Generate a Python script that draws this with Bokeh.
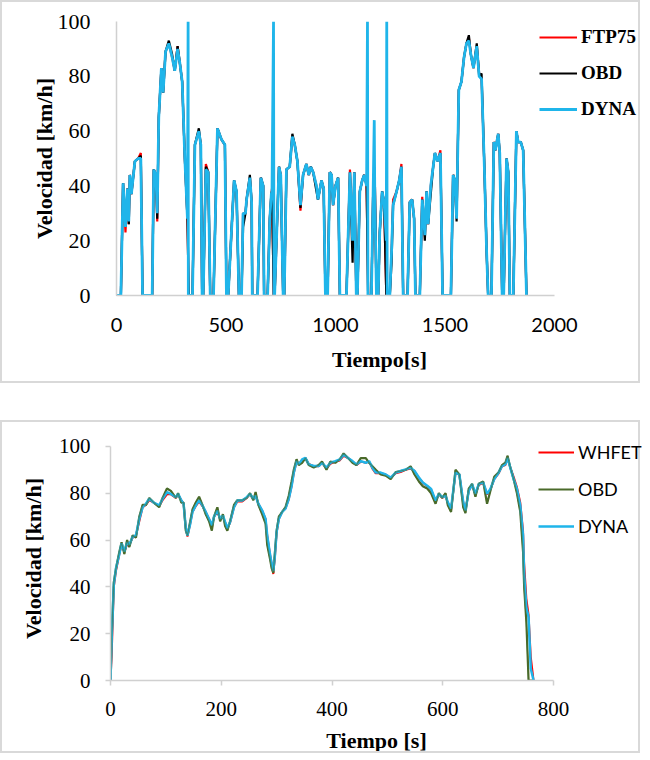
from bokeh.plotting import figure
from bokeh.models import Range1d, FixedTicker, Legend, LegendItem
from bokeh.embed import file_html
from bokeh.resources import INLINE

# ---------------- FTP75 cycle (top) ----------------
t_ftp = [0, 20, 30, 41, 50, 56, 61, 68, 84, 99, 111, 119, 163, 170, 180, 186, 193, 205, 213, 224,
         239, 254, 266, 279, 289, 300, 312, 324, 330, 347, 358, 376, 385, 391, 396, 408, 419, 428, 443, 461,
         479, 495, 502, 510, 537, 548, 559, 571, 578, 589, 594, 609, 617, 620, 644, 659, 670, 674, 690, 700,
         707, 710, 718, 722, 742, 750, 761, 766, 776, 791, 803, 814, 826, 840, 852, 867, 878, 887, 898, 913,
         920, 936, 946, 954, 964, 974, 982, 989, 1000, 1012, 1020, 1050, 1066, 1078, 1086, 1095, 1100, 1111, 1122, 1131,
         1142, 1149, 1164, 1172, 1180, 1187, 1195, 1202, 1213, 1222, 1232, 1248, 1256, 1263, 1279, 1291, 1301, 1309, 1329, 1339,
         1350, 1359, 1365, 1385, 1396, 1408, 1416, 1423, 1435, 1446, 1454, 1466, 1479, 1489, 1527, 1537, 1545, 1553, 1563, 1575,
         1587, 1598, 1609, 1618, 1630, 1645, 1656, 1667, 1679, 1690, 1697, 1712, 1723, 1730, 1743, 1750, 1761, 1768, 1781, 1789,
         1796, 1812, 1826, 1834, 1846, 1857, 1872]
v_ftp75 = [0, 0, 41, 23, 39, 26, 44, 37, 49, 50, 52, 0, 0, 46, 44, 27, 65, 83, 74, 89,
           92, 87, 82, 91, 85, 78, 50, 28, 0, 0, 55, 60, 55, 0, 0, 48, 45, 0, 0, 61,
           57, 55, 0, 0, 42, 38, 0, 0, 30, 30, 35, 43, 34, 0, 0, 43, 40, 0, 0, 28,
           37, 39, 0, 0, 47, 44, 0, 0, 46, 47, 58, 55, 49, 31, 44, 48, 44, 47, 45, 40,
           35, 42, 39, 0, 0, 45, 44, 33, 40, 43, 0, 0, 46, 20, 45, 0, 0, 38, 42, 44,
           41, 0, 0, 38, 40, 0, 0, 23, 38, 34, 0, 0, 16, 35, 38, 42, 48, 0, 0, 34,
           35, 28, 0, 0, 36, 22, 38, 26, 40, 47, 52, 49, 53, 0, 0, 44, 42, 28, 75, 78,
           87, 92, 94, 88, 83, 91, 81, 79, 49, 16, 0, 0, 56, 53, 59, 52, 0, 0, 50, 45,
           0, 0, 60, 56, 56, 53, 0]
v_obd = [0, 0, 41, 25, 39, 26, 44, 37, 49, 50, 51, 0, 0, 46, 44, 28, 65, 83, 74, 89,
         93, 88, 82, 91, 85, 78, 50, 28, 0, 0, 55, 61, 55, 0, 0, 47, 45, 0, 0, 61,
         57, 55, 0, 0, 42, 38, 0, 0, 25, 30, 35, 44, 34, 0, 0, 43, 40, 0, 0, 28,
         37, 38, 0, 0, 47, 44, 0, 0, 46, 47, 59, 55, 49, 32, 44, 48, 44, 47, 45, 38,
         35, 42, 39, 0, 0, 45, 44, 33, 40, 43, 0, 0, 45, 12, 45, 0, 0, 38, 42, 44,
         40, 0, 0, 38, 40, 0, 0, 23, 38, 34, 0, 0, 12, 33, 38, 42, 47, 0, 0, 34,
         35, 28, 0, 0, 35, 20, 38, 26, 37, 47, 52, 49, 52, 0, 0, 44, 42, 27, 75, 78,
         87, 92, 95, 88, 83, 92, 80, 81, 49, 16, 0, 0, 56, 53, 59, 52, 0, 0, 50, 45,
         0, 0, 60, 56, 56, 53, 0]
t_dyna = [0, 20, 30, 41, 50, 56, 61, 68, 84, 99, 111, 119, 163, 170, 180, 186, 193, 205, 213, 224,
          239, 254, 266, 279, 289, 300, 312, 324, 327, 328, 347, 358, 376, 385, 391, 396, 408, 419, 428, 443,
          461, 479, 495, 502, 510, 537, 548, 559, 571, 578, 589, 594, 609, 617, 620, 644, 659, 670, 674, 690,
          700, 707, 710, 717, 719, 722, 742, 750, 761, 766, 776, 791, 803, 814, 826, 840, 852, 867, 878, 887,
          898, 913, 920, 936, 946, 954, 964, 974, 982, 989, 1000, 1012, 1020, 1050, 1066, 1078, 1086, 1095, 1100, 1111,
          1122, 1131, 1142, 1146, 1148, 1164, 1172, 1177, 1179, 1187, 1195, 1202, 1213, 1222, 1232, 1234, 1236, 1248, 1256, 1263,
          1279, 1291, 1301, 1309, 1329, 1339, 1350, 1359, 1365, 1385, 1396, 1408, 1416, 1423, 1435, 1446, 1454, 1466, 1479, 1489,
          1527, 1537, 1545, 1553, 1563, 1575, 1587, 1598, 1609, 1618, 1630, 1645, 1656, 1667, 1679, 1690, 1697, 1712, 1723, 1730,
          1743, 1750, 1761, 1768, 1781, 1789, 1796, 1812, 1826, 1834, 1846, 1857, 1872]
v_dyna = [0, 0, 41, 25, 39, 27, 44, 37, 49, 50, 50, 0, 0, 46, 44, 30, 65, 83, 74, 89,
          92, 87, 82, 90, 85, 78, 50, 28, 100, 0, 0, 55, 60, 55, 0, 0, 46, 45, 0, 0,
          61, 57, 55, 0, 0, 42, 38, 0, 0, 30, 30, 35, 43, 34, 0, 0, 43, 40, 0, 0,
          28, 37, 38, 100, 0, 0, 47, 44, 0, 0, 46, 47, 58, 55, 49, 33, 44, 48, 44, 47,
          45, 40, 35, 42, 39, 0, 0, 45, 44, 33, 40, 43, 0, 0, 45, 20, 45, 0, 0, 38,
          42, 44, 40, 100, 0, 0, 38, 64, 40, 0, 0, 23, 38, 34, 20, 100, 0, 0, 16, 33,
          38, 42, 47, 0, 0, 34, 35, 28, 0, 0, 35, 22, 38, 26, 40, 47, 52, 49, 52, 0,
          0, 44, 42, 28, 75, 78, 87, 92, 93, 88, 83, 91, 80, 79, 49, 16, 0, 0, 56, 53,
          59, 52, 0, 0, 50, 45, 0, 0, 60, 56, 56, 53, 0]

top_x_ticks = [0, 500, 1000, 1500, 2000]
top_y_ticks = [0, 20, 40, 60, 80, 100]

# ---------------- HWFET cycle (bottom) ----------------
t_hw = [0, 2, 6, 10, 16, 20, 25, 30, 34, 40, 46, 52, 58, 64, 70, 78, 88, 94, 102, 109,
        118, 122, 128, 132, 136, 139, 144, 148, 154, 160, 166, 172, 178, 183, 187, 193, 198, 203, 207, 211,
        216, 223, 229, 238, 246, 252, 258, 262, 267, 274, 280, 283, 288, 291, 294, 297, 300, 304, 310, 316,
        322, 327, 331, 336, 340, 346, 352, 358, 367, 376, 382, 390, 397, 406, 414, 421, 429, 437, 444, 452,
        461, 467, 473, 479, 488, 497, 506, 515, 524, 533, 542, 549, 557, 564, 572, 579, 587, 593, 599, 605,
        609, 615, 623, 630, 637, 641, 647, 653, 659, 665, 673, 680, 686, 693, 701, 707, 713, 717, 722, 728,
        734, 740, 745, 747, 751, 755, 759, 764]
v_whfet = [0, 10, 40, 47, 54, 58, 55, 58, 58, 61, 62, 68, 74, 75, 77, 76, 74.5, 77, 79.5, 79.5,
           78, 79.5, 77, 75.5, 65, 61.5, 67, 72, 74.5, 76.5, 74.5, 72, 69, 66, 70, 72, 69, 70, 67.5, 65,
           67.5, 74, 76.5, 76.5, 78, 79.5, 77.5, 79, 75.5, 72.5, 69, 62, 54, 50, 45.5, 53, 63, 69, 72, 73.5,
           77.5, 83, 88.5, 93.5, 92.5, 94, 95, 92.5, 91.5, 91.5, 93, 90.5, 92.5, 93.5, 94, 96, 95, 93.5, 92, 93.5,
           93, 93.5, 90.5, 88.5, 88.5, 88, 86.5, 88.5, 89, 90, 90.5, 89.5, 86.5, 84.5, 83, 81.5, 76.5, 79.5, 78, 79,
           76, 73, 88.5, 88, 76, 72.5, 81, 83.5, 79.5, 83.5, 84.5, 79.5, 81.5, 86, 88.5, 91.5, 92, 95, 91, 87,
           82.5, 76, 64, 50, 35, 28, 10, 0]
v_obd_hw = [0, 18, 42, 48, 55, 59, 54, 60, 57, 62, 61, 70, 75, 75, 78, 76, 74, 78, 82, 81,
            78, 80, 76, 76, 64, 62, 68, 73, 76, 78.5, 75, 71, 68, 64, 70, 74, 68, 71, 66, 64,
            68, 75, 77, 77, 78, 80, 77, 80.5, 75, 71, 67, 58, 52, 48, 46, 55, 64, 70, 72, 74,
            79, 85, 90, 94.5, 92, 93, 95, 92, 91, 92, 93.5, 90, 93.5, 93, 94.5, 97, 95, 93, 92, 95,
            95, 93, 91.5, 90, 88, 87.5, 86, 89, 89.5, 90, 91.5, 88, 85, 83, 82, 80, 75.5, 80, 78, 80,
            75, 72, 90, 88, 74, 71.5, 82, 84, 78.5, 84, 85, 75.5, 81, 87, 89, 92, 93, 96, 91, 86,
            80, 72, 55, 40, 25, 0, 0, 0]
v_dyna_hw = [0, 17, 41, 48, 54, 58.6, 55, 59, 58, 61.4, 62, 69, 74, 75.5, 77.6, 76, 74.8, 77.6, 80.4, 79.7,
             78.3, 79.7, 76.9, 75.5, 65, 62, 67, 72, 74.8, 76.9, 74.8, 72, 69, 66.3, 70, 72.6, 69, 70.5, 67.7, 65,
             67.7, 74, 76.9, 76.9, 78.3, 79.7, 77.6, 79, 75.5, 72.6, 69, 62, 54, 50, 46.7, 53.7, 63.5, 69, 72, 73.4,
             77.6, 83, 88.8, 93.7, 92.3, 94.4, 95.1, 92.3, 91.6, 91.6, 93, 90.9, 93, 93.7, 94.4, 96.5, 95, 93.7, 92.3, 93.7,
             93, 93.7, 90.9, 88.8, 88.8, 88, 86.7, 88.8, 89.5, 90.2, 90.9, 89.5, 86.7, 84.6, 83.2, 81.8, 76.9, 79.7, 78.3, 79,
             76.2, 73.4, 88.8, 88, 76.2, 72.6, 81, 83.9, 79.7, 83.9, 84.6, 79.7, 81.8, 86, 88.8, 91.6, 92.3, 95.1, 90.9, 86,
             81.8, 74.8, 62, 45.3, 31.3, 27, 5, 0]

bot_x_ticks = [0, 200, 400, 600, 800]
bot_y_ticks = [0, 20, 40, 60, 80, 100]

SERIF = "'Liberation Serif', 'Times New Roman', serif"
BORDER = "#d9d9d9"
AX = "#d0d0d0"

# ---------------- top figure ----------------
W = 640
L1, R1 = 114, 0
H1, T1, F1 = 383, 19, 274
x_end1 = 2000 * (W - L1 - R1) / 438.0   # 0..2000 axis 438 px long, room on the right for the legend
p1 = figure(width=W, height=H1, output_backend="svg", toolbar_location=None,
            x_range=Range1d(0, x_end1), y_range=Range1d(0, 100),
            min_border_left=L1, min_border_right=R1, min_border_top=T1, min_border_bottom=H1 - T1 - F1,
            styles={"border": "2px solid " + BORDER, "box-sizing": "border-box"})
p1.outline_line_color = None
p1.grid.visible = False
r_ftp = p1.line(t_ftp, v_ftp75, line_color="#ff0000", line_width=2.2)
r_obd = p1.line(t_ftp, v_obd, line_color="#000000", line_width=2.2)
r_dyn = p1.line(t_dyna, v_dyna, line_color="#1fb5ea", line_width=2.8)

for ax in (p1.xaxis[0], p1.yaxis[0]):
    ax.axis_line_color = AX
    ax.axis_line_width = 1.5
    ax.major_tick_line_color = None
    ax.minor_tick_line_color = None
    ax.major_label_text_color = "#000000"
    ax.axis_label_text_color = "#000000"
    ax.axis_label_text_font = SERIF
    ax.axis_label_text_font_style = "bold"
    ax.axis_label_text_font_size = "22px"
p1.xaxis.bounds = (0, 2000)
p1.xaxis.ticker = FixedTicker(ticks=top_x_ticks)
p1.yaxis.ticker = FixedTicker(ticks=top_y_ticks)
p1.xaxis.major_label_text_font = "Lato"
p1.xaxis.major_label_text_font_size = "20px"
p1.xaxis.major_label_standoff = 16
p1.xaxis.axis_label = "Tiempo[s]"
p1.xaxis.axis_label_standoff = 12
p1.yaxis.major_label_text_font = SERIF
p1.yaxis.major_label_text_font_size = "22px"
p1.yaxis.major_label_standoff = 20
p1.yaxis.axis_label = "Velocidad [km/h]"
p1.yaxis.axis_label_standoff = -2

leg1 = Legend(items=[LegendItem(label="FTP75", renderers=[r_ftp]),
                     LegendItem(label="OBD", renderers=[r_obd]),
                     LegendItem(label="DYNA", renderers=[r_dyn])],
              location=(423, 175), padding=0, margin=0, spacing=14,
              glyph_width=38, glyph_height=20, label_height=20, label_standoff=4,
              border_line_color=None, background_fill_alpha=0,
              label_text_font=SERIF, label_text_font_style="bold", label_text_font_size="19px",
              label_text_color="#000000")
p1.add_layout(leg1)

# ---------------- bottom figure ----------------
L2, R2 = 108, 0
EXTRA = 10                      # px of frame above the 100 line, so the legend is not clipped
H2, T2, F2 = 333, 24 - EXTRA, 237 + EXTRA
x_end2 = 800 * (W - L2 - R2) / 443.0
y_end2 = 100 * F2 / 237.0
p2 = figure(width=W, height=H2, output_backend="svg", toolbar_location=None,
            x_range=Range1d(0, x_end2), y_range=Range1d(0, y_end2),
            min_border_left=L2, min_border_right=R2, min_border_top=T2, min_border_bottom=H2 - T2 - F2,
            styles={"border": "2px solid " + BORDER, "box-sizing": "border-box", "margin-top": "37px"})
p2.outline_line_color = None
p2.grid.visible = False
r_wh = p2.line(t_hw, v_whfet, line_color="#ff0000", line_width=2)
r_ob = p2.line(t_hw, v_obd_hw, line_color="#4a6a2a", line_width=2.2)
r_dy = p2.line(t_hw, v_dyna_hw, line_color="#1fb5ea", line_width=2.5)
p2.line(t_hw, v_obd_hw, line_color="#4a6a2a", line_width=1.2, line_alpha=0.6)

for ax in (p2.xaxis[0], p2.yaxis[0]):
    ax.axis_line_color = AX
    ax.axis_line_width = 1.5
    ax.major_tick_line_color = AX
    ax.major_tick_line_width = 1.5
    ax.major_tick_out = 5
    ax.major_tick_in = 0
    ax.minor_tick_line_color = None
    ax.major_label_text_color = "#000000"
    ax.major_label_text_font = SERIF
    ax.major_label_text_font_size = "21px"
    ax.axis_label_text_color = "#000000"
    ax.axis_label_text_font = SERIF
    ax.axis_label_text_font_style = "bold"
    ax.axis_label_text_font_size = "22px"
p2.xaxis.bounds = (0, 800)
p2.yaxis.bounds = (0, 100)
p2.xaxis.ticker = FixedTicker(ticks=bot_x_ticks)
p2.yaxis.ticker = FixedTicker(ticks=bot_y_ticks)
p2.xaxis.major_label_standoff = 16
p2.xaxis.axis_label = "Tiempo [s]"
p2.xaxis.axis_label_standoff = 9
p2.yaxis.major_label_standoff = 15
p2.yaxis.axis_label = "Velocidad [km/h]"
p2.yaxis.axis_label_standoff = 10

leg2 = Legend(items=[LegendItem(label="WHFET", renderers=[r_wh]),
                     LegendItem(label="OBD", renderers=[r_ob]),
                     LegendItem(label="DYNA", renderers=[r_dy])],
              location=(428, 143), padding=0, margin=0, spacing=15,
              glyph_width=36, glyph_height=20, label_height=20, label_standoff=4,
              border_line_color=None, background_fill_alpha=0,
              label_text_font="Lato", label_text_font_size="18px",
              label_text_color="#000000")
p2.add_layout(leg2)

open("out.html", "w").write(file_html([p1, p2], INLINE))
